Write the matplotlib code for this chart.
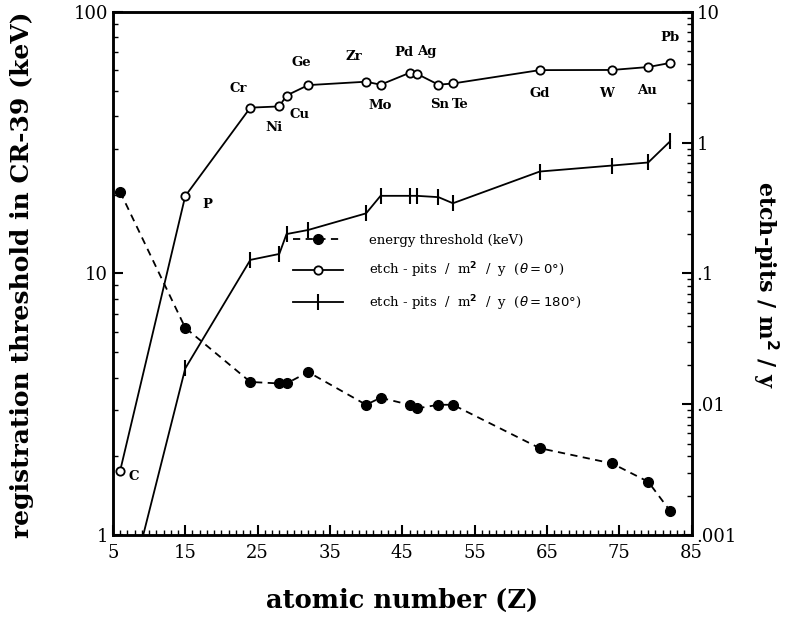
import matplotlib
matplotlib.use("Agg")
import matplotlib.pyplot as plt
from matplotlib.ticker import FixedLocator, NullFormatter, MultipleLocator, LogLocator
import numpy as np

# ---- data ----
z_energy = [6, 15, 24, 28, 29, 32, 40, 42, 46, 47, 50, 52, 64, 74, 79, 82]
energy_kev = [20.5, 6.2, 3.85, 3.8, 3.8, 4.2, 3.15, 3.35, 3.15, 3.05, 3.15, 3.15, 2.15, 1.88, 1.6, 1.24]

z_pits0 = [6, 15, 24, 28, 29, 32, 40, 42, 46, 47, 50, 52, 64, 74, 79, 82]
pits0 = [0.0031, 0.39, 1.85, 1.89, 2.29, 2.75, 2.92, 2.77, 3.41, 3.36, 2.77, 2.83, 3.58, 3.59, 3.78, 4.06]
elements = ["C", "P", "Cr", "Ni", "Cu", "Ge", "Zr", "Mo", "Pd", "Ag", "Sn", "Te", "Gd", "W", "Au", "Pb"]

z_pits180 = [6, 15, 24, 28, 29, 32, 40, 42, 46, 47, 50, 52, 64, 74, 79, 82]
pits180 = [0.0002, 0.0188, 0.127, 0.141, 0.200, 0.215, 0.288, 0.392, 0.392, 0.392, 0.383, 0.344, 0.601, 0.668, 0.705, 1.02]

xticks = [5, 15, 25, 35, 45, 55, 65, 75, 85]
left_ticks = [1, 10, 100]
left_labels = ["1", "10", "100"]
right_ticks = [0.001, 0.01, 0.1, 1, 10]
right_labels = [".001", ".01", ".1", "1", "10"]

label_offsets = [(10, -4), (16, -6), (-9, 14), (-4, -15), (9, -14), (-5, 16), (-9, 18), (0, -15),
                 (-4, 15), (7, 16), (1, -14), (5, -15), (0, -17), (-4, -17), (-1, -17), (0, 18)]

plt.rcParams['font.family'] = ['DejaVu Serif']

fig = plt.figure(figsize=(7.95, 6.18), dpi=100)
ax = fig.add_axes([0.142, 0.134, 0.728, 0.847])
ax2 = ax.twinx()

lw = 1.3
# energy threshold (left axis)
l1, = ax.plot(z_energy, energy_kev, linestyle=(0, (4, 3)), color='black', lw=lw,
              marker='o', markersize=7, markerfacecolor='black', zorder=3,
              label='energy threshold (keV)')

# pits (right axis)
l2, = ax2.plot(z_pits0, pits0, linestyle='-', color='black', lw=lw,
               marker='o', markersize=6, markerfacecolor='white', markeredgewidth=1.3,
               label=r'etch - pits  /  m$^{\mathbf{2}}$  /  y  ($\theta = 0°$)')
l3, = ax2.plot(z_pits180, pits180, linestyle='-', color='black', lw=lw,
               marker='|', markersize=11, markeredgewidth=1.5,
               label=r'etch - pits  /  m$^{\mathbf{2}}$  /  y  ($\theta = 180°$)')

for z, v, name, off in zip(z_pits0, pits0, elements, label_offsets):
    ax2.annotate(name, xy=(z, v), xytext=off, textcoords='offset points',
                 ha='center', va='center', fontsize=9.5, fontweight='bold')

ax.set_xlim(5, 85)
ax.set_yscale('log')
ax.set_ylim(1, 100)
ax2.set_yscale('log')
ax2.set_ylim(0.001, 10)

ax.xaxis.set_major_locator(FixedLocator(xticks))
ax.xaxis.set_minor_locator(MultipleLocator(1))
ax.set_xticklabels([str(t) for t in xticks])
ax.yaxis.set_major_locator(FixedLocator(left_ticks))
ax.set_yticklabels(left_labels)
ax.yaxis.set_minor_locator(LogLocator(base=10, subs=np.arange(2, 10)))
ax.yaxis.set_minor_formatter(NullFormatter())
ax2.yaxis.set_major_locator(FixedLocator(right_ticks))
ax2.set_yticklabels(right_labels)
ax2.yaxis.set_minor_locator(LogLocator(base=10, subs=np.arange(2, 10)))
ax2.yaxis.set_minor_formatter(NullFormatter())

for a in (ax, ax2):
    a.tick_params(which='major', direction='in', length=7, width=1.5, labelsize=13)
    a.tick_params(which='minor', direction='in', length=3.5, width=1.0)
    for s in a.spines.values():
        s.set_linewidth(1.8)
ax.tick_params(axis='x', which='major', pad=6)

fig.text(0.506, 0.028, 'atomic number (Z)', fontsize=18.5, fontweight='bold',
         ha='center', va='center')
fig.text(0.028, 0.555, 'registration threshold in CR-39 (keV)', fontsize=18, fontweight='bold',
         rotation=90, ha='center', va='center')
fig.text(0.962, 0.539, r'etch-pits / m$^{\mathbf{2}}$ / y', fontsize=16, fontweight='bold',
         rotation=-90, ha='center', va='center')

leg = ax.legend(handles=[l1, l2, l3], loc='upper left', bbox_to_anchor=(0.29, 0.598),
                frameon=False, fontsize=9.5, handlelength=3.8, handletextpad=2.0,
                labelspacing=1.0)

fig.savefig('out.png', dpi=100)
